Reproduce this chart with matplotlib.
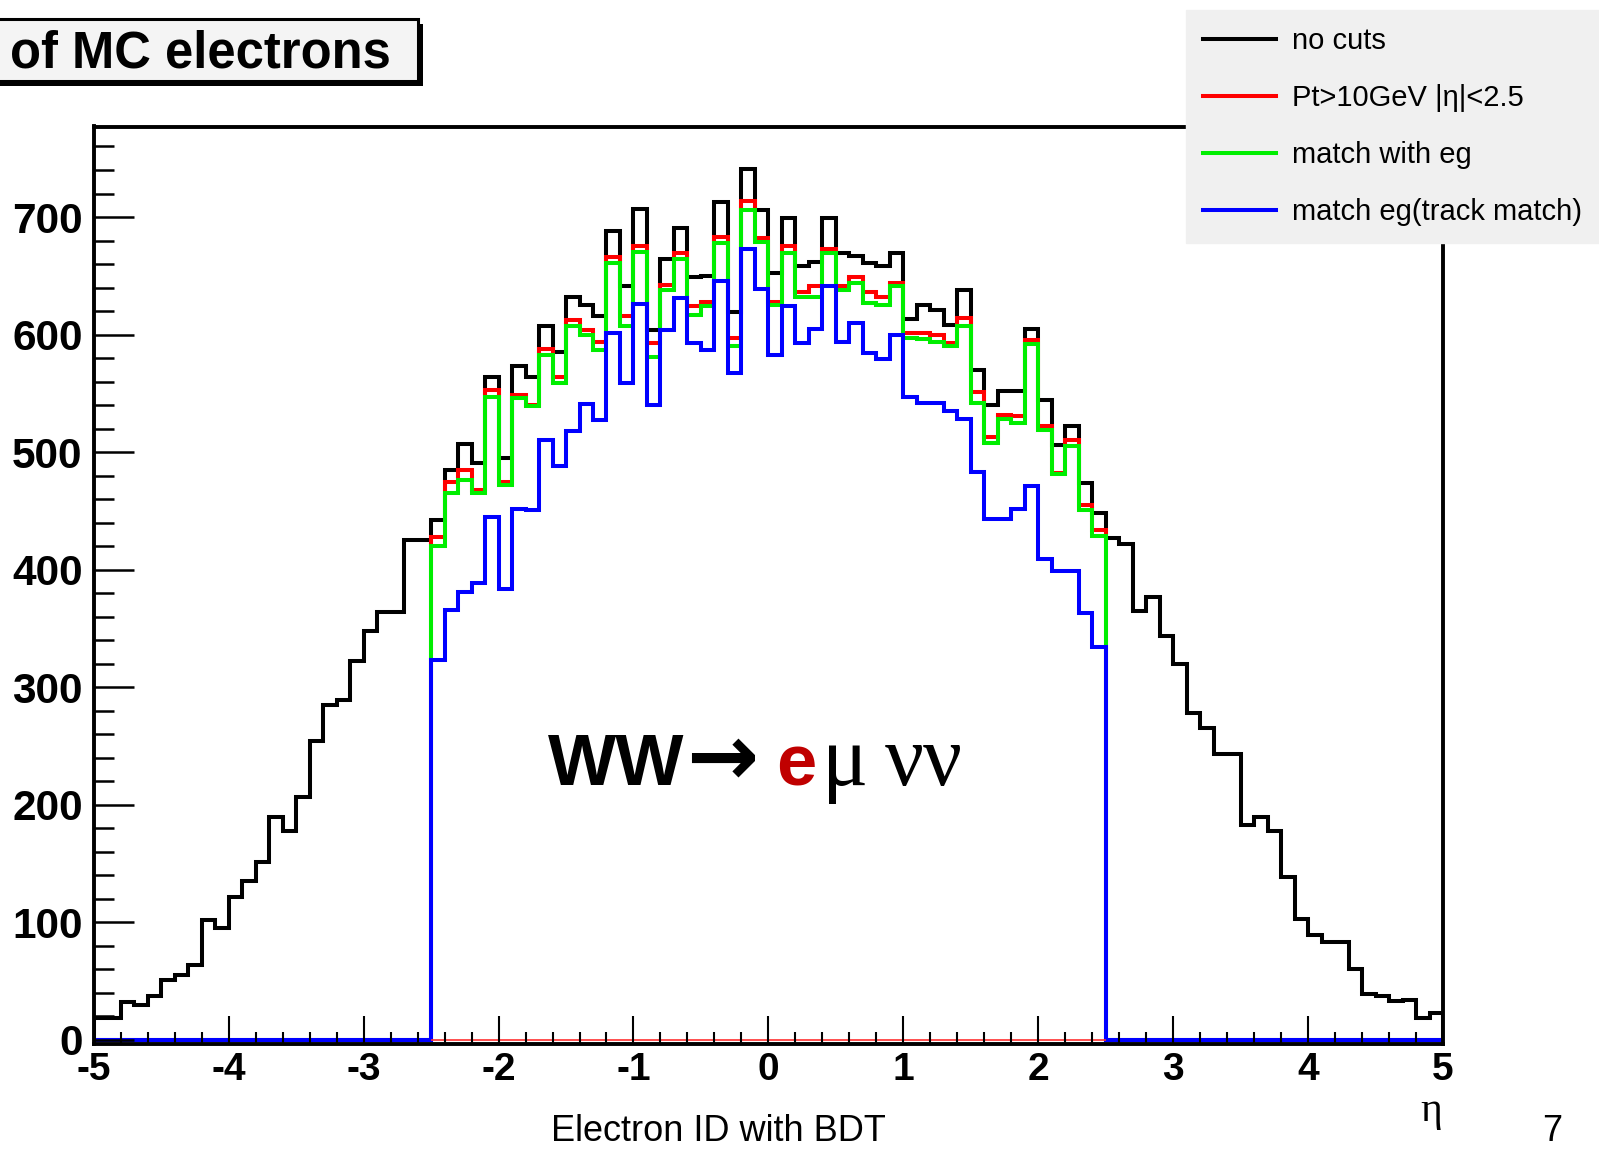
import numpy as np
import matplotlib
matplotlib.use("Agg")
import matplotlib.pyplot as plt
from matplotlib.patches import Rectangle
from matplotlib.ticker import MultipleLocator

plt.rcParams['font.family'] = ['Liberation Sans', 'DejaVu Sans']

# eta histogram, 100 bins from -5 to 5
bin_edges = np.linspace(-5, 5, 101)
eta_cut = 2.5

no_cuts = [19, 19, 32, 30, 37, 51, 55, 64, 102, 95,
           122, 135, 151, 190, 178, 207, 254, 285, 289, 322,
           348, 364, 364, 425, 425, 442, 485, 507, 491, 564,
           495, 573, 564, 607, 585, 632, 625, 616, 688, 641,
           707, 604, 664, 691, 649, 650, 713, 619, 741, 706,
           652, 699, 658, 662, 699, 669, 667, 661, 658, 669,
           613, 625, 621, 608, 638, 570, 540, 552, 552, 605,
           544, 506, 522, 474, 448, 427, 422, 365, 377, 344,
           320, 278, 265, 243, 243, 183, 190, 178, 139, 103,
           89, 83, 83, 60, 39, 37, 33, 34, 19, 23]

# |eta| < 2.5 part only (50 bins from -2.5 to 2.5)
pt_cut = [428, 475, 485, 468, 553, 475, 549, 540, 588, 564,
          612, 604, 594, 666, 616, 675, 593, 642, 669, 624,
          628, 683, 597, 714, 682, 628, 675, 636, 641, 673,
          641, 649, 636, 632, 644, 601, 601, 600, 593, 614,
          551, 513, 532, 531, 595, 522, 482, 510, 455, 434]
match_eg = [420, 465, 476, 465, 547, 472, 546, 539, 583, 559,
            607, 600, 587, 661, 607, 670, 581, 638, 664, 617,
            624, 678, 590, 706, 679, 625, 669, 632, 632, 669,
            638, 644, 627, 625, 641, 597, 596, 594, 590, 607,
            542, 508, 528, 525, 592, 519, 481, 505, 451, 429]
match_track = [323, 366, 381, 389, 445, 384, 452, 451, 510, 488,
               518, 541, 527, 601, 559, 626, 540, 604, 631, 593,
               587, 646, 567, 673, 639, 583, 624, 593, 605, 641,
               594, 610, 584, 579, 600, 547, 542, 542, 535, 528,
               483, 443, 443, 452, 471, 409, 399, 399, 363, 334]

labels = ["no cuts", "Pt>10GeV |\u03b7|<2.5", "match with eg", "match eg(track match)"]
colors = ["black", "#ff0000", "#00ee00", "#0000ff"]

xticks = [-5, -4, -3, -2, -1, 0, 1, 2, 3, 4, 5]
xticklabels = ["-5", "-4", "-3", "-2", "-1", "0", "1", "2", "3", "4", "5"]
yticks = [0, 100, 200, 300, 400, 500, 600, 700]
yticklabels = ["0", "100", "200", "300", "400", "500", "600", "700"]

W, H = 1599, 1151
fig = plt.figure(figsize=(W / 100, H / 100), dpi=100)
ax = fig.add_axes([93.8 / W, 1 - 1043.5 / H, (1443 - 93.8) / W, (1043.5 - 126.5) / H])


def pad_eta(vals):
    n_out = (len(no_cuts) - len(vals)) // 2
    return np.concatenate([np.zeros(n_out), vals, np.zeros(n_out)])


series = [np.array(no_cuts, float), pad_eta(pt_cut), pad_eta(match_eg), pad_eta(match_track)]
handles = []
for vals, col, lab in zip(series, colors, labels):
    p = ax.stairs(vals, bin_edges, color=col, lw=2.9, baseline=0, label=lab)
    p.set_joinstyle('miter')
    handles.append(p)

# thin red baseline inside the acceptance
ax.hlines(0, -eta_cut, eta_cut, colors='#ff3030', lw=1.2, zorder=1)

ax.set_xlim(-5, 5)
ax.set_ylim(-3, 777)

ax.xaxis.set_minor_locator(MultipleLocator(0.2))
ax.yaxis.set_minor_locator(MultipleLocator(20))
ax.set_xticks(xticks, xticklabels, fontsize=28, fontweight='bold')
ax.set_yticks(yticks, yticklabels, fontsize=30.5, fontweight='bold')
ax.tick_params(axis='x', which='major', direction='in', length=20, width=1.5, pad=6)
ax.tick_params(axis='x', which='minor', direction='in', length=9, width=1.5)
ax.tick_params(axis='y', which='major', direction='in', length=29, width=1.8, pad=8)
ax.tick_params(axis='y', which='minor', direction='in', length=14.5, width=1.8)
for s in ax.spines.values():
    s.set_linewidth(2.8)

# title box with shadow (clipped on the left like the original)
shadow = Rectangle((-10 / W + 5 / W, 1 - 81 / H - 5 / H), 428 / W, 62 / H,
                   transform=fig.transFigure, facecolor='black', edgecolor='black', lw=0)
box = Rectangle((-10 / W, 1 - 81 / H), 428 / W, 62 / H, transform=fig.transFigure,
                facecolor='#f4f4f4', edgecolor='black', lw=2.2)
fig.add_artist(shadow)
fig.add_artist(box)
fig.text(10 / W, 1 - 67.5 / H, "of MC electrons", fontsize=36.5, fontweight='bold',
         ha='left', va='baseline')

leg = fig.legend(handles=handles, loc='upper right', bbox_to_anchor=(1.0, 1 - 10 / H),
                 fontsize=21, frameon=True, fancybox=False, framealpha=1,
                 facecolor='#f0f0f0', edgecolor='#f0f0f0', borderpad=0.58,
                 handlelength=2.5, handletextpad=0.55, labelspacing=1.0,
                 borderaxespad=0)

# process label
serif = ['Liberation Serif', 'DejaVu Serif']
base = 1 - 785 / H
fig.text(548 / W, base, "WW", fontsize=52, fontweight='bold', va='baseline')
fig.text(686 / W, base, "\u2192", fontsize=62, fontweight='bold', family=['DejaVu Sans'],
         va='baseline')
fig.text(776 / W, base, "e", fontsize=52, fontweight='bold', color='#c00000', va='baseline')
fig.text(822 / W, base, "\u03bc", fontsize=62, family=serif, va='baseline')
fig.text(885 / W, base, "\u03bd\u03bd", fontsize=62, family=serif, va='baseline')

fig.text(1431 / W, 1 - 1121 / H, "\u03b7", fontsize=30, family=serif,
         ha='center', va='baseline')
fig.text(718 / W, 2 / H, "Electron ID with BDT", fontsize=26, ha='center', va='bottom')
fig.text(1552 / W, 2 / H, "7", fontsize=26, ha='center', va='bottom')

fig.savefig("out.png", dpi=100)
